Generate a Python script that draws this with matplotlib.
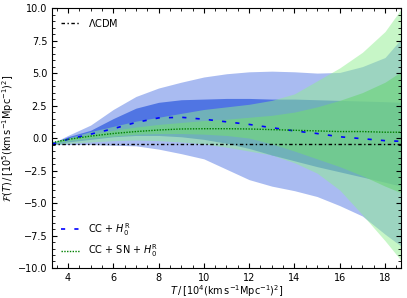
import matplotlib
matplotlib.use("Agg")
import matplotlib.pyplot as plt
from matplotlib.ticker import MultipleLocator

T = [3.3, 4, 5, 6, 7, 8, 9, 10, 11, 12, 13, 14, 15, 16, 17, 18, 18.7]

# CC + H0R (blue)
cc_mean = [-0.45, -0.1, 0.3, 0.72, 1.2, 1.55, 1.6, 1.45, 1.25, 1.05, 0.8, 0.55, 0.35, 0.1, -0.05, -0.2, -0.25]
cc_1s_up = [-0.4, 0.1, 0.6, 1.5, 2.3, 2.75, 2.95, 3.0, 3.05, 3.05, 3.0, 3.0, 2.95, 2.9, 2.85, 2.8, 2.75]
cc_1s_lo = [-0.5, -0.3, -0.1, 0.1, 0.2, 0.2, 0.1, -0.1, -0.4, -0.8, -1.3, -1.75, -2.2, -2.6, -3.0, -3.4, -3.7]
cc_2s_up = [-0.4, 0.2, 1.0, 2.2, 3.2, 3.85, 4.3, 4.7, 4.95, 5.1, 5.15, 5.1, 5.0, 5.05, 5.5, 6.2, 7.6]
cc_2s_lo = [-0.5, -0.5, -0.5, -0.55, -0.6, -0.85, -1.2, -1.6, -2.4, -3.2, -3.7, -4.05, -4.5, -5.2, -6.0, -7.4, -8.3]

# CC + SN + H0R (green)
ccsn_mean = [-0.35, -0.1, 0.15, 0.35, 0.5, 0.62, 0.7, 0.72, 0.72, 0.7, 0.65, 0.6, 0.55, 0.5, 0.5, 0.45, 0.45]
ccsn_1s_up = [-0.3, -0.05, 0.3, 0.6, 0.85, 1.05, 1.2, 1.35, 1.45, 1.6, 1.75, 2.0, 2.4, 2.9, 3.5, 4.3, 5.1]
ccsn_1s_lo = [-0.4, -0.2, 0.0, 0.15, 0.3, 0.35, 0.35, 0.3, 0.2, 0.0, -0.45, -1.0, -1.6, -2.2, -2.9, -3.7, -4.2]
ccsn_2s_up = [-0.3, 0.0, 0.5, 0.9, 1.3, 1.6, 1.9, 2.2, 2.4, 2.6, 2.9, 3.4, 4.4, 5.4, 6.6, 8.2, 9.9]
ccsn_2s_lo = [-0.5, -0.4, -0.3, -0.2, -0.15, -0.2, -0.3, -0.45, -0.7, -1.0, -1.3, -1.9, -2.7, -4.0, -5.9, -7.9, -9.4]

lcdm_value = -0.45

fig = plt.figure(figsize=(4.07, 2.98), dpi=100)
ax = fig.add_axes([0.128, 0.1007, 0.857, 0.872])

ax.fill_between(T, cc_2s_lo, cc_2s_up, color='royalblue', alpha=0.45, lw=0)
ax.fill_between(T, cc_1s_lo, cc_1s_up, color='royalblue', alpha=0.85, lw=0)
ax.fill_between(T, ccsn_2s_lo, ccsn_2s_up, color='#90ee90', alpha=0.5, lw=0)
ax.fill_between(T, ccsn_1s_lo, ccsn_1s_up, color='#72d481', alpha=0.7, lw=0)

l0, = ax.plot([T[0], T[-1]], [lcdm_value, lcdm_value], color='k', lw=1.0,
              linestyle=(0, (2.5, 1.8, 1, 1.8)))
l1, = ax.plot(T, cc_mean, color='blue', lw=1.2, linestyle=(0, (2.5, 5.5)))
l2, = ax.plot(T, ccsn_mean, color='green', lw=1.0, linestyle=(0, (1, 1)))

ax.set_xlim(3.3, 18.7)
ax.set_ylim(-10, 10)
ax.xaxis.set_major_locator(MultipleLocator(2))
ax.xaxis.set_minor_locator(MultipleLocator(0.5))
ax.yaxis.set_major_locator(MultipleLocator(2.5))
ax.yaxis.set_minor_locator(MultipleLocator(0.5))
ax.tick_params(which='both', direction='in', top=True, right=True, labelsize=7)
ax.tick_params(which='major', length=3.5, width=0.8)
ax.tick_params(which='minor', length=2, width=0.6)

ax.set_xlabel(r'$T\,/\,[10^4(\mathrm{km\,s^{-1}Mpc^{-1}})^2]$', fontsize=7, labelpad=0)
ax.set_ylabel(r'$\mathcal{F}(T)\,/\,[10^5(\mathrm{km\,s^{-1}Mpc^{-1}})^2]$', fontsize=7, labelpad=1)

leg1 = ax.legend([l0], [r'$\Lambda$CDM'], loc='upper left', frameon=False, fontsize=7)
ax.add_artist(leg1)
ax.legend([l1, l2], [r'CC + $H_0^{\mathrm{R}}$', r'CC + SN + $H_0^{\mathrm{R}}$'],
          loc='lower left', frameon=False, fontsize=7)

fig.savefig('out.png', dpi=100)
